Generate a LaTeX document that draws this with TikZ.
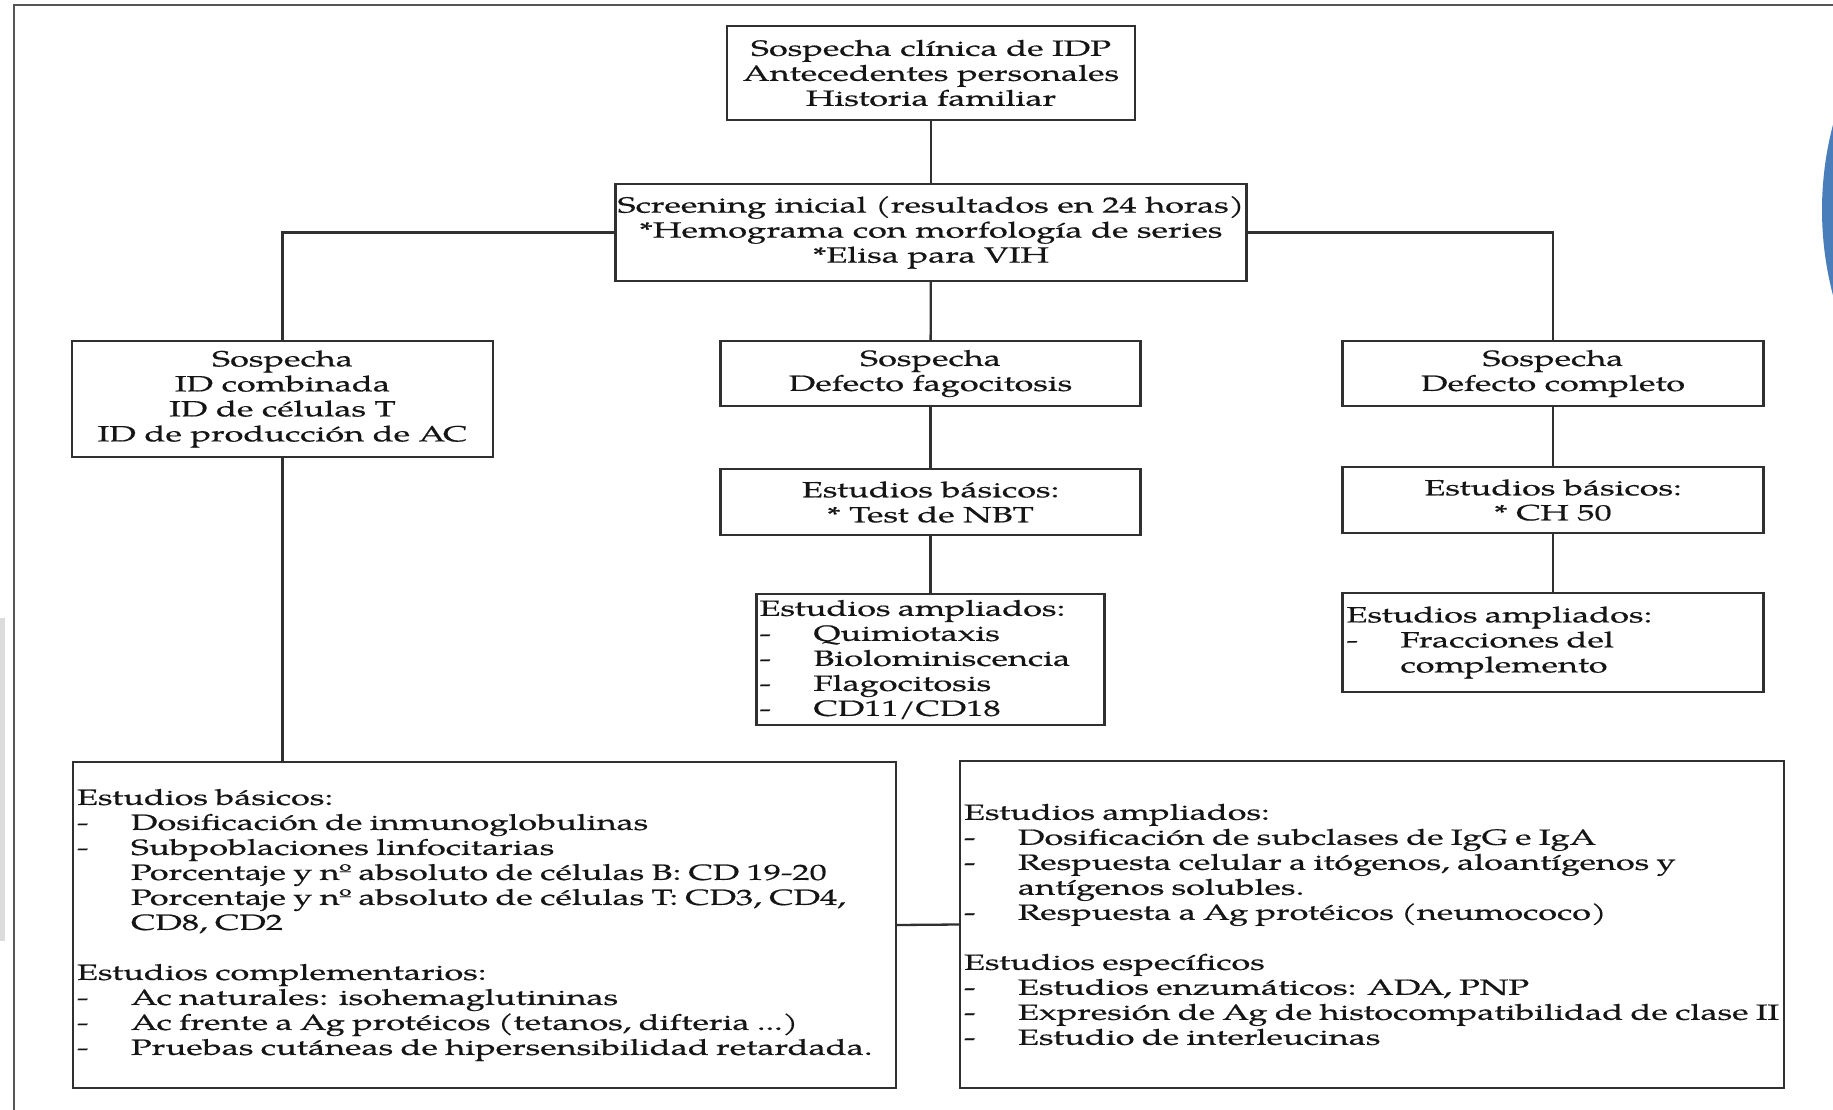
\documentclass[tikz,border=0pt]{standalone}
\usepackage{fontspec}
\setmainfont{TeX Gyre Pagella}[FakeStretch=1.56, FakeBold=0.6]
\definecolor{linegray}{HTML}{303030}
\definecolor{framegray}{HTML}{555555}
\definecolor{stripgray}{HTML}{DCDCDC}
\definecolor{bluedisc}{HTML}{4A7EBB}
\definecolor{inkgray}{HTML}{151515}
\newcommand{\itm}{\makebox[54pt][l]{-}}
\begin{document}
\begin{tikzpicture}[x=1pt,y=-1pt,
  box/.style={draw=linegray, line width=2.3pt, rectangle, inner sep=0pt,
    align=center, font=\fontsize{22}{25}\selectfont, text=inkgray},
  listbox/.style={box, align=left, inner xsep=4pt},
  link/.style={draw=linegray, line width=2.3pt},
]
\useasboundingbox (0,0) rectangle (1833,1110);
\fill[white] (0,0) rectangle (1833,1110);

% page frame, side strip and the edge of the blue disc
\draw[framegray, line width=2.6pt] (14,1110) -- (14,5) -- (1833,5);
\fill[stripgray] (0,618) rectangle (5,941);
\begin{scope}
  \clip (0,0) rectangle (1833,1110);
  \fill[bluedisc] (2156,210) circle[radius=334];
\end{scope}

% flowchart boxes
\node[box, minimum width=408pt, minimum height=94pt] (idp) at (931,73)
  {Sospecha clínica de IDP\\Antecedentes personales\\Historia familiar};
\node[box, minimum width=631pt, minimum height=97pt] (scr) at (931,232.5)
  {Screening inicial (resultados en 24 horas)\\*Hemograma con morfología de series\\*Elisa para VIH};

\node[box, minimum width=421pt, minimum height=116pt] (sosL) at (282.5,399)
  {Sospecha\\ID combinada\\ID de células T\\ID de producción de AC};
\node[box, minimum width=420pt, minimum height=65pt] (sosM) at (930.5,373.5)
  {Sospecha\\Defecto fagocitosis};
\node[box, minimum width=421pt, minimum height=65pt] (sosR) at (1553,373.5)
  {Sospecha\\Defecto completo};

\node[box, minimum width=420pt, minimum height=66pt] (basM) at (930.5,502)
  {Estudios básicos:\\* Test de NBT};
\node[box, minimum width=421pt, minimum height=66pt] (basR) at (1553,500)
  {Estudios básicos:\\* CH 50};

\node[listbox, inner xsep=3pt, text width=342pt, minimum height=131pt] (ampM) at (930.5,659.5)
  {Estudios ampliados:\\\itm Quimiotaxis\\\itm Biolominiscencia\\\itm Flagocitosis\\\itm CD11/CD18};
\node[listbox, text width=413pt, minimum height=99pt] (ampR) at (1553,642.5)
  {Estudios ampliados:\\\itm Fracciones del\\\hspace*{54pt}complemento};

\node[listbox, text width=815pt, minimum height=326pt] (botL) at (484.5,925)
  {Estudios básicos:\\
   \itm Dosificación de inmunoglobulinas\\
   \itm Subpoblaciones linfocitarias\\
   \hspace*{54pt}Porcentaje y nº absoluto de células B: CD 19-20\\
   \hspace*{54pt}Porcentaje y nº absoluto de células T: CD3, CD4,\\
   \hspace*{54pt}CD8, CD2\\[25pt]
   Estudios complementarios:\\
   \itm Ac naturales: isohemaglutininas\\
   \itm Ac frente a Ag protéicos (tetanos, difteria ...)\\
   \itm Pruebas cutáneas de hipersensibilidad retardada.};
\node[listbox, text width=816pt, minimum height=327pt] (botR) at (1372,924.5)
  {Estudios ampliados:\\
   \itm Dosificación de subclases de IgG e IgA\\
   \itm Respuesta celular a itógenos, aloantígenos y\\
   \hspace*{54pt}antígenos solubles.\\
   \itm Respuesta a Ag protéicos (neumococo)\\[25pt]
   Estudios específicos\\
   \itm Estudios enzumáticos: ADA, PNP\\
   \itm Expresión de Ag de histocompatibilidad de clase II\\
   \itm Estudio de interleucinas};

% connectors
\draw[link] (idp) -- (scr);
\draw[link] (scr.west) -| (sosL.north);
\draw[link] (scr.east) -| (sosR.north);
\draw[link] (scr) -- (sosM);
\draw[link] (sosM) -- (basM);
\draw[link] (basM) -- (ampM);
\draw[link] (sosR) -- (basR);
\draw[link] (basR) -- (ampR);
\draw[link] (sosL.south) -- (sosL.south |- botL.north);
\draw[link] (botL.east) -- (botR.west);
\end{tikzpicture}
\end{document}
